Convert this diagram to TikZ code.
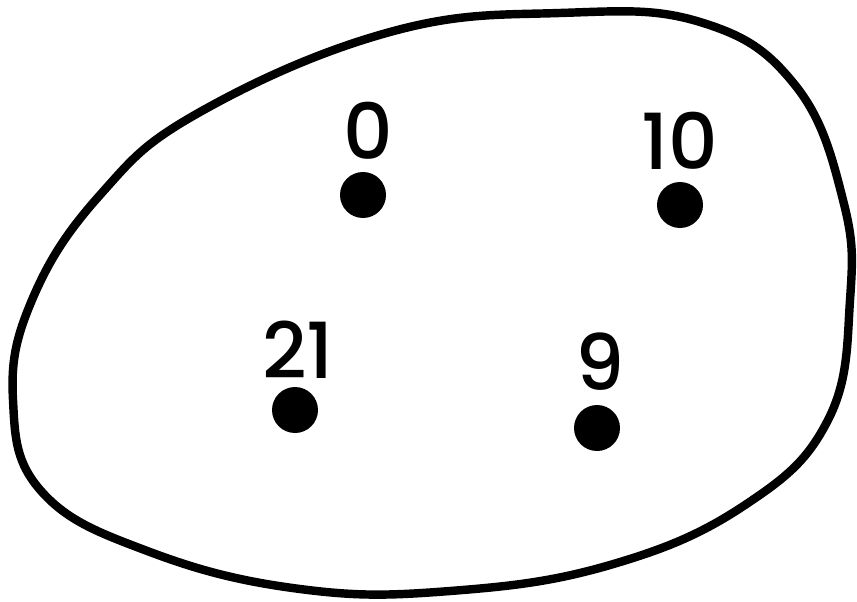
\documentclass[tikz,border=0pt]{standalone}
\usepackage{fontspec}
\setmainfont{Poppins}
\newfontfamily\labelfont{Poppins Medium}
\usepackage{tikz}
\usetikzlibrary{positioning}

\tikzset{
  elem/.style={circle, fill=black, inner sep=0pt, minimum size=0.92cm},
  numlabel/.style={font=\fontsize{44}{46}\labelfont, inner sep=0pt}
}

\begin{document}
\begin{tikzpicture}[x=0.02cm, y=-0.02cm]
\useasboundingbox (0,0) rectangle (857,601);
% Set outline
\draw[line width=4.8pt] plot[smooth cycle, tension=0.7] coordinates {
  (200,112) (390,32) (560,13) (700,22) (795,85) (843,200) (850,300)
  (828,420) (745,505) (610,565) (450,591) (300,589) (150,552)
  (42,492) (13,400) (32,300) (100,195)};

% Elements
\node[elem] (e0) at (363,195) {};
\node[elem] (e10) at (680,205) {};
\node[elem] (e21) at (295,410) {};
\node[elem] (e9) at (597,428) {};

% Labels
\node[numlabel] (l0) at (368,131) {0};
\node[numlabel] (l10) at (680,141) {10};
\node[numlabel] (l21) at (298,350) {21};
\node[numlabel] (l9) at (600,362) {9};
\end{tikzpicture}
\end{document}
